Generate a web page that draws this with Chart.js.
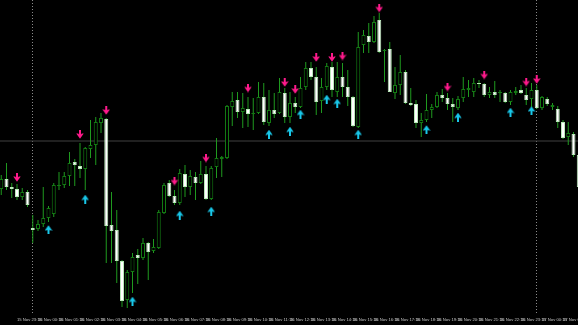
<!DOCTYPE html>
<html>
<head>
<meta charset="utf-8">
<script src="https://cdn.jsdelivr.net/npm/chart.js@4"></script>
<style>
  html, body { margin: 0; padding: 0; background: #000; }
  #wrap { width: 578px; height: 325px; position: relative; background: #000; }
</style>
</head>
<body>
<div id="wrap"><canvas id="c"></canvas></div>
<script>
// M15 candles, bar 0 = 15 Nov 22:30
const open = [1.1424,1.1434,1.1426,1.1424,1.1416,1.1421,1.1385,1.1384,1.1389,1.1395,1.1399,1.1427,1.1428,1.1437,1.1451,1.1447,1.1444,1.1464,1.1468,1.1490,
1.1494,1.1388,1.1383,1.1352,1.1313,1.1341,1.1358,1.1355,1.1370,1.1362,1.1365,1.1400,1.1430,1.1417,1.1410,1.1439,1.1426,1.1436,1.1430,1.1439,
1.1414,1.1446,1.1454,1.1455,1.1506,1.1513,1.1501,1.1504,1.1499,1.1500,1.1516,1.1490,1.1503,1.1500,1.1520,1.1496,1.1510,1.1506,1.1526,1.1545,
1.1536,1.1512,1.1526,1.1546,1.1521,1.1536,1.1526,1.1516,1.1486,1.1568,1.1577,1.1571,1.1593,1.1562,1.1564,1.1520,1.1528,1.1541,1.1510,1.1509,
1.1490,1.1493,1.1503,1.1506,1.1518,1.1515,1.1509,1.1505,1.1515,1.1523,1.1521,1.1530,1.1529,1.1518,1.1521,1.1520,1.1520,1.1511,1.1520,1.1523,
1.1518,1.1514,1.1523,1.1505,1.1514,1.1506,1.1504,1.1491,1.1476,1.1479,1.1458];
const high = [1.1438,1.1450,1.1430,1.1429,1.1425,1.1423,1.1398,1.1393,1.1426,1.1407,1.1430,1.1441,1.1441,1.1461,1.1454,1.1470,1.1466,1.1493,1.1496,1.1500,
1.1495,1.1421,1.1403,1.1353,1.1343,1.1360,1.1364,1.1375,1.1371,1.1374,1.1403,1.1430,1.1433,1.1423,1.1444,1.1448,1.1443,1.1441,1.1452,1.1447,
1.1447,1.1475,1.1457,1.1508,1.1521,1.1521,1.1520,1.1516,1.1515,1.1531,1.1530,1.1523,1.1520,1.1535,1.1525,1.1521,1.1516,1.1536,1.1551,1.1551,
1.1546,1.1535,1.1550,1.1551,1.1551,1.1550,1.1543,1.1517,1.1581,1.1583,1.1590,1.1597,1.1600,1.1564,1.1571,1.1546,1.1558,1.1543,1.1525,1.1513,
1.1500,1.1519,1.1509,1.1521,1.1524,1.1520,1.1515,1.1517,1.1536,1.1533,1.1535,1.1533,1.1530,1.1526,1.1532,1.1523,1.1521,1.1523,1.1526,1.1528,
1.1525,1.1530,1.1528,1.1517,1.1516,1.1510,1.1507,1.1493,1.1491,1.1481,1.1460];
const low = [1.1418,1.1423,1.1415,1.1413,1.1413,1.1406,1.1370,1.1382,1.1386,1.1391,1.1396,1.1423,1.1425,1.1427,1.1427,1.1435,1.1423,1.1455,1.1448,1.1480,
1.1350,1.1350,1.1330,1.1306,1.1305,1.1320,1.1329,1.1353,1.1333,1.1360,1.1364,1.1399,1.1416,1.1408,1.1408,1.1416,1.1418,1.1413,1.1429,1.1413,
1.1413,1.1435,1.1436,1.1454,1.1487,1.1495,1.1485,1.1486,1.1483,1.1499,1.1488,1.1487,1.1495,1.1499,1.1490,1.1490,1.1500,1.1505,1.1523,1.1533,
1.1498,1.1500,1.1523,1.1516,1.1516,1.1516,1.1507,1.1486,1.1485,1.1560,1.1560,1.1570,1.1560,1.1531,1.1521,1.1514,1.1518,1.1509,1.1507,1.1485,
1.1476,1.1491,1.1495,1.1505,1.1511,1.1503,1.1491,1.1503,1.1511,1.1516,1.1516,1.1525,1.1516,1.1515,1.1515,1.1511,1.1510,1.1508,1.1518,1.1519,
1.1508,1.1506,1.1504,1.1503,1.1507,1.1503,1.1485,1.1474,1.1468,1.1456,1.1423];
const close = [1.1434,1.1426,1.1424,1.1416,1.1421,1.1408,1.1383,1.1389,1.1395,1.1405,1.1428,1.1428,1.1437,1.1450,1.1448,1.1444,1.1465,1.1468,1.1491,1.1495,
1.1387,1.1382,1.1352,1.1312,1.1341,1.1356,1.1355,1.1370,1.1361,1.1366,1.1401,1.1428,1.1417,1.1410,1.1440,1.1426,1.1437,1.1430,1.1439,1.1414,
1.1445,1.1455,1.1456,1.1507,1.1512,1.1501,1.1505,1.1499,1.1500,1.1516,1.1491,1.1503,1.1499,1.1521,1.1496,1.1510,1.1506,1.1525,1.1545,1.1536,
1.1511,1.1526,1.1547,1.1523,1.1536,1.1526,1.1516,1.1487,1.1566,1.1578,1.1571,1.1591,1.1561,1.1563,1.1521,1.1528,1.1541,1.1510,1.1508,1.1490,
1.1493,1.1503,1.1506,1.1518,1.1515,1.1509,1.1506,1.1514,1.1524,1.1525,1.1530,1.1529,1.1518,1.1521,1.1518,1.1521,1.1511,1.1521,1.1522,1.1520,
1.1513,1.1523,1.1505,1.1516,1.1509,1.1508,1.1491,1.1475,1.1480,1.1458,1.1426];

// signal arrows (bar index, price where arrow sits)
const sellBars   = [3, 15, 20, 33, 39, 47, 54, 56, 60, 63, 65, 72, 85, 92, 100, 102];
const sellPrices = [1.14355,1.14785,1.15025,1.1432,1.1455,1.1525,1.15305,1.15235,1.15555,1.15555,1.1557,1.1605,1.1526,1.1538,1.1531,1.15335];
const buyBars    = [9, 16, 25, 34, 40, 51, 55, 57, 62, 64, 68, 81, 87, 97, 101];
const buyPrices  = [1.13835,1.1414,1.1312,1.1398,1.1402,1.1479,1.1482,1.1499,1.1514,1.1510,1.1479,1.14835,1.1496,1.1501,1.15025];

const levelPrice = 1.1472;            // horizontal line
const daySeparators = [6, 102];        // 16 Nov 00:00, 17 Nov 00:00
const tickBars = [3,7,11,15,19,23,27,31,35,39,43,47,51,55,59,63,67,71,75,79,83,87,91,95,99,103,107];
const tickLabels = ["15 Nov 23:15","16 Nov 00:15","16 Nov 01:15","16 Nov 02:15","16 Nov 03:15","16 Nov 04:15","16 Nov 05:15",
  "16 Nov 06:15","16 Nov 07:15","16 Nov 08:15","16 Nov 09:15","16 Nov 10:15","16 Nov 11:15","16 Nov 12:15","16 Nov 13:15",
  "16 Nov 14:15","16 Nov 15:15","16 Nov 16:15","16 Nov 17:15","16 Nov 18:15","16 Nov 19:15","16 Nov 20:15","16 Nov 21:15",
  "16 Nov 22:15","16 Nov 23:15","17 Nov 00:15","17 Nov 01:15"];

function arrowCanvas(color, down) {
  const c = document.createElement('canvas');
  c.width = 8; c.height = 9;
  const g = c.getContext('2d');
  g.fillStyle = color;
  if (!down) { g.translate(0, 9); g.scale(1, -1); }
  g.fillRect(3, 0, 2, 6.5);
  g.beginPath();
  g.moveTo(0.3, 3.5); g.lineTo(2.2, 3.5); g.lineTo(4, 5.8); g.lineTo(5.8, 3.5);
  g.lineTo(7.7, 3.5); g.lineTo(4, 8.7); g.closePath();
  g.fill();
  return c;
}

const idx = open.map((_, i) => i);
const isBear = idx.map(i => close[i] < open[i]);
const WICK = '#1f9a1f';

const pxPerBar = 5.25, firstX = 1.25, W = 578;
const xMin = -firstX / pxPerBar;
const xMax = xMin + W / pxPerBar;

function noPad(s) { s.paddingLeft = 0; s.paddingRight = 0; s.paddingTop = 0; s.paddingBottom = 0; }

new Chart(document.getElementById('c'), {
  data: {
    datasets: [
      {
        type: 'line', order: 5,
        data: [{x: xMin, y: levelPrice}, {x: xMax, y: levelPrice}],
        borderColor: '#414141', borderWidth: 1, pointRadius: 0
      },
      {
        type: 'bar', order: 2, grouped: false,
        data: idx.map(i => ({x: i, y: [low[i], high[i]]})),
        backgroundColor: WICK, borderWidth: 0, barThickness: 1, inflateAmount: 0
      },
      {
        type: 'bar', order: 1, grouped: false,
        data: idx.map(i => ({x: i, y: [open[i], close[i]]})),
        backgroundColor: idx.map(i => isBear[i] ? '#ffffff' : '#000000'),
        borderColor: idx.map(i => isBear[i] ? '#b8e8b8' : '#127a12'),
        borderWidth: 1, borderSkipped: false, barThickness: 4, inflateAmount: 0
      },
      {
        type: 'scatter', order: 0,
        data: sellBars.map((b, j) => ({x: b, y: sellPrices[j]})),
        pointStyle: arrowCanvas('#ff1a8c', true), pointRadius: 4
      },
      {
        type: 'scatter', order: 0,
        data: buyBars.map((b, j) => ({x: b, y: buyPrices[j]})),
        pointStyle: arrowCanvas('#19c8ea', false), pointRadius: 4
      }
    ]
  },
  options: {
    responsive: true, maintainAspectRatio: false, animation: false,
    layout: { padding: 0, autoPadding: false },
    plugins: { legend: { display: false }, tooltip: { enabled: false } },
    scales: {
      x: {
        type: 'linear', min: xMin, max: xMax, position: 'bottom', offset: false,
        grid: { display: false, drawTicks: false, offset: false },
        border: { display: false },
        afterBuildTicks: s => { s.ticks = tickBars.map(v => ({ value: v })); },
        afterFit: s => { s.height = 12; noPad(s); },
        ticks: {
          autoSkip: false, maxRotation: 0, minRotation: 0, align: 'start', padding: 4,
          color: '#c4c4c4',
          font: { size: 4.2, family: "'Liberation Sans Narrow', 'Liberation Sans', sans-serif" },
          callback: (v) => { const j = tickBars.indexOf(v); return j >= 0 ? tickLabels[j] : ''; }
        }
      },
      xSep: {
        type: 'linear', min: xMin, max: xMax, position: 'bottom', offset: false,
        afterBuildTicks: s => { s.ticks = daySeparators.map(v => ({ value: v })); },
        afterFit: s => { s.height = 0; noPad(s); },
        ticks: { display: false },
        grid: { display: true, drawTicks: false, offset: false, color: '#8a8a8a', lineWidth: 1 },
        border: { display: false, dash: [1, 2] }
      },
      y: {
        display: false, min: 1.1300, max: 1.1613
      }
    }
  }
});
</script>
</body>
</html>
